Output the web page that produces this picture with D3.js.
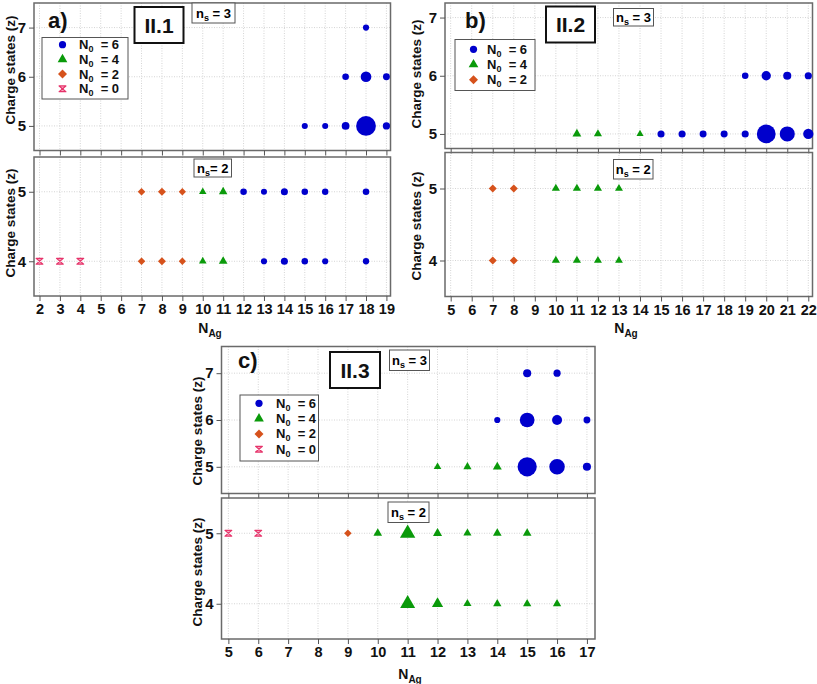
<!DOCTYPE html>
<html><head><meta charset="utf-8">
<script src="https://cdn.jsdelivr.net/npm/d3@7"></script>
<style>body{margin:0;background:#fff} svg{display:block}</style>
</head><body>
<svg id="chart" width="817" height="684"></svg>
<script>
// ---------------- data ----------------
// each point: [N_Ag, charge state z, N0 group, relative abundance (marker area)]
const aNs3 = [
  [18,7,6,1.0],[17,6,6,1.2],[18,6,6,3.5],[19,6,6,1.3],
  [15,5,6,0.95],[16,5,6,0.95],[17,5,6,1.7],[18,5,6,12.5],[19,5,6,1.45]
];
const aNs2 = [
  [7,5,2,0.95],[8,5,2,1.1],[9,5,2,0.85],[10,5,4,0.75],[11,5,4,1.05],
  [12,5,6,1.15],[13,5,6,0.95],[14,5,6,1.4],[15,5,6,1.15],[16,5,6,1.1],[18,5,6,1.15],
  [2,4,0,1],[3,4,0,1],[4,4,0,1],
  [7,4,2,0.95],[8,4,2,1.1],[9,4,2,0.85],[10,4,4,0.8],[11,4,4,1.1],
  [13,4,6,1.0],[14,4,6,1.4],[15,4,6,1.15],[16,4,6,1.0],[18,4,6,1.05]
];
const bNs3 = [
  [19,6,6,1.15],[20,6,6,2.6],[21,6,6,1.9],[22,6,6,1.45],
  [11,5,4,1.15],[12,5,4,0.95],[14,5,4,0.65],
  [15,5,6,1.4],[16,5,6,1.4],[17,5,6,1.35],[18,5,6,1.35],[19,5,6,1.4],
  [20,5,6,11.3],[21,5,6,7.2],[22,5,6,3.2]
];
const bNs2 = [
  [7,5,2,1.1],[8,5,2,1.1],[10,5,4,0.95],[11,5,4,0.95],[12,5,4,0.95],[13,5,4,0.9],
  [7,4,2,1.1],[8,4,2,1.1],[10,4,4,0.95],[11,4,4,0.95],[12,4,4,0.9],[13,4,4,0.85]
];
const cNs3 = [
  [15,7,6,1.9],[16,7,6,1.45],
  [14,6,6,1.0],[15,6,6,6.8],[16,6,6,3.0],[17,6,6,1.3],
  [12,5,4,0.8],[13,5,4,0.95],[14,5,4,1.2],
  [15,5,6,11.8],[16,5,6,7.6],[17,5,6,1.9]
];
const cNs2 = [
  [5,5,0,1],[6,5,0,1],[9,5,2,0.9],
  [10,5,4,1.1],[11,5,4,4.0],[12,5,4,1.25],[13,5,4,0.95],[14,5,4,1.1],[15,5,4,1.1],
  [11,4,4,3.8],[12,4,4,2.0],[13,4,4,0.95],[14,4,4,1.0],[15,4,4,1.0],[16,4,4,1.0]
];
const xTicksA = [2,3,4,5,6,7,8,9,10,11,12,13,14,15,16,17,18,19];
const xTicksB = [5,6,7,8,9,10,11,12,13,14,15,16,17,18,19,20,21,22];
const xTicksC = [5,6,7,8,9,10,11,12,13,14,15,16,17];
const yTicksNs3 = [5,6,7];
const yTicksNs2 = [4,5];
const legendA = [6,4,2,0];
const legendB = [6,4,2];
const legendC = [6,4,2,0];

// ---------------- styling ----------------
const svg = d3.select("#chart");
const FONT = "'Liberation Sans Narrow','Liberation Sans',Arial,sans-serif";
const FONTW = "'Liberation Sans',Arial,sans-serif";
const colors = {6:"#0000cc", 4:"#0a9a0a", 2:"#d6521c", 0:"#e6336a"};
const sizeScale = d3.scaleLinear().domain([0,1]).range([6,30]);

const diamond = { draw(ctx, size){ const r=Math.sqrt(size/2);
  ctx.moveTo(0,-r); ctx.lineTo(r,0); ctx.lineTo(0,r); ctx.lineTo(-r,0); ctx.closePath(); } };
const hourglass = { draw(ctx, size){ const s=Math.sqrt(size), w=s*0.62, h=s*0.52;
  ctx.moveTo(-w,-h); ctx.lineTo(w,-h); ctx.lineTo(-w,h); ctx.lineTo(w,h); ctx.closePath(); } };
const symbolOf = {6:d3.symbolCircle, 4:d3.symbolTriangle, 2:diamond, 0:hourglass};

function drawMarker(sel, group, size){
  sel.attr("d", d3.symbol().type(symbolOf[group]).size(sizeScale(size)))
     .attr("fill", group===0 ? "#f7a8c0" : colors[group])
     .attr("stroke", group===0 ? colors[0] : "none")
     .attr("stroke-width", group===0 ? 1.2 : 0)
     .attr("stroke-linejoin","round");
}

function nsLabel(g, box, n){
  g.append("rect").attr("x",box[0]).attr("y",box[1]).attr("width",box[2]).attr("height",box[3])
    .attr("fill","#fff").attr("stroke","#555").attr("stroke-width",1);
  const t = g.append("text").attr("x",box[0]+box[2]/2).attr("y",box[1]+box[3]/2+4.5)
    .attr("text-anchor","middle").attr("font-family",FONTW).attr("font-weight","bold").attr("font-size",13);
  t.append("tspan").text("n");
  t.append("tspan").attr("font-size",9).attr("dy",3).text("s");
  t.append("tspan").attr("dy",-3).text(box[4] || " = " + n);
}

function drawPanel(p){
  const g = svg.append("g");
  const x = d3.scaleLinear().domain(p.xDomain).range([p.left, p.right]);
  p.subs.forEach((s, i) => {
    const y = d3.scaleLinear().domain(s.yDomain).range([s.bottom, s.top]);
    const last = i === p.subs.length - 1;
    // grid
    g.append("g").selectAll("line").data(p.xTicks).join("line")
      .attr("x1", d=>x(d)).attr("x2", d=>x(d)).attr("y1", s.top).attr("y2", s.bottom)
      .attr("stroke","#d4d4d4").attr("stroke-width",1).attr("stroke-dasharray","1,1.5");
    g.append("g").selectAll("line").data(s.yTicks).join("line")
      .attr("x1", p.left).attr("x2", p.right).attr("y1", d=>y(d)).attr("y2", d=>y(d))
      .attr("stroke","#d4d4d4").attr("stroke-width",1).attr("stroke-dasharray","1,1.5");
    // frame
    g.append("rect").attr("x",p.left).attr("y",s.top).attr("width",p.right-p.left).attr("height",s.bottom-s.top)
      .attr("fill","none").attr("stroke","#6a6a6a").attr("stroke-width",1.5);
    // axes
    const ya = g.append("g").attr("transform",`translate(${p.left},0)`)
      .call(d3.axisLeft(y).tickValues(s.yTicks).tickSize(5).tickPadding(3).tickFormat(d3.format("d")));
    const xa = g.append("g").attr("transform",`translate(0,${s.bottom})`)
      .call(d3.axisBottom(x).tickValues(p.xTicks).tickSize(5).tickPadding(3)
        .tickFormat(last ? d3.format("d") : () => ""));
    [ya, xa].forEach(a => {
      a.select(".domain").remove();
      a.selectAll(".tick line").attr("stroke","#555").attr("stroke-width",1);
    });
    xa.selectAll(".tick text").attr("font-family",FONT).attr("font-weight","bold")
      .attr("font-size",14.5).attr("fill","#111");
    ya.selectAll(".tick text").attr("font-family",FONTW).attr("font-weight","bold")
      .attr("font-size",15).attr("fill","#111");
    // y label
    g.append("text").attr("transform",`translate(${p.ylabX},${s.labY}) rotate(-90)`)
      .attr("text-anchor","middle").attr("font-family",FONTW).attr("font-weight","bold")
      .attr("font-size",13.5).attr("fill","#111").text("Charge states (z)");
    // points
    g.append("g").selectAll("path").data(s.data).join("path")
      .attr("transform", d => `translate(${x(d[0])},${y(d[1])})`)
      .each(function(d){ drawMarker(d3.select(this), d[2], d[3]); });
    nsLabel(g, s.nsBox, s.ns);
  });
  // N_Ag label
  const t = g.append("text").attr("x",p.nagX).attr("y",p.nagY).attr("text-anchor","middle")
    .attr("font-family",FONTW).attr("font-weight","bold").attr("font-size",14).attr("fill","#111");
  t.append("tspan").text("N");
  t.append("tspan").attr("font-size",10).attr("dy",3.5).text("Ag");
  // panel letter
  g.append("text").attr("x",p.letter[0]).attr("y",p.letter[1]).attr("font-family",FONTW)
    .attr("font-weight","bold").attr("font-size",22).attr("fill","#111").text(p.letter[2]);
  // II.x box
  const b = p.idBox;
  g.append("rect").attr("x",b[0]).attr("y",b[1]).attr("width",b[2]).attr("height",b[3])
    .attr("fill","#fff").attr("stroke","#111").attr("stroke-width",2);
  g.append("text").attr("x",b[0]+b[2]/2).attr("y",b[1]+b[3]/2+7.5).attr("text-anchor","middle")
    .attr("font-family",FONTW).attr("font-weight","bold").attr("font-size",21).attr("fill","#111").text(b[4]);
  // legend
  const L = p.legend;
  g.append("rect").attr("x",L.x).attr("y",L.y).attr("width",L.w).attr("height",L.h)
    .attr("fill","#fff").attr("stroke","#555").attr("stroke-width",1);
  const rows = g.append("g").selectAll("g").data(L.items).join("g")
    .attr("transform",(d,i)=>`translate(0,${L.y0 + i*L.dy})`);
  rows.append("path").attr("transform",`translate(${L.sx},0)`)
    .each(function(d){ drawMarker(d3.select(this), d, d===0 ? 1.0 : 1.45); });
  const lt = rows.append("text").attr("x",L.tx).attr("y",4.5).attr("font-family",FONTW)
    .attr("font-weight","bold").attr("font-size",13).attr("fill","#111");
  lt.append("tspan").text("N");
  lt.append("tspan").attr("font-size",9).attr("dy",3).text("0");
  lt.append("tspan").attr("dy",-3).text(d => "  = " + d).attr("xml:space","preserve");
}

drawPanel({
  left:34, right:390.5, xDomain:[1.73,19.2], xTicks:xTicksA, ylabX:14.5, nagX:210, nagY:333,
  letter:[48,28,"a)"], idBox:[134.5,7,49,36,"II.1"],
  legend:{x:42,y:37.5,w:86,h:61.5,items:legendA,y0:44.7,dy:14.7,sx:62.5,tx:79},
  subs:[
    {top:3, bottom:150.5, yDomain:[4.5,7.5], yTicks:yTicksNs3, data:aNs3, labY:70, ns:3, nsBox:[192,3,43,20]},
    {top:157, bottom:296, yDomain:[3.5,5.5], yTicks:yTicksNs2, data:aNs2, labY:223, ns:2, nsBox:[194,159,37.5,18,"= 2"]}
  ]
});
drawPanel({
  left:445, right:812.5, xDomain:[4.73,22.2], xTicks:xTicksB, ylabX:421, nagX:626, nagY:333,
  letter:[465,28,"b)"], idBox:[546,6.5,49,36,"II.2"],
  legend:{x:455,y:39.5,w:80,h:51,items:legendB,y0:49.3,dy:15.2,sx:473.5,tx:487},
  subs:[
    {top:3, bottom:148.5, yDomain:[4.75,7.25], yTicks:yTicksNs3, data:bNs3, labY:74, ns:3, nsBox:[613.5,8.5,40,17.5]},
    {top:152.5, bottom:296.5, yDomain:[3.5,5.5], yTicks:yTicksNs2, data:bNs2, labY:226, ns:2, nsBox:[613.5,159.5,39.5,19.5]}
  ]
});
drawPanel({
  left:221.5, right:595, xDomain:[4.77,17.27], xTicks:xTicksC, ylabX:202, nagX:410, nagY:679,
  letter:[238,368,"c)"], idBox:[330,352,50,36,"II.3"],
  legend:{x:240,y:395,w:78.5,h:66,items:legendC,y0:403.3,dy:15.3,sx:259,tx:276},
  subs:[
    {top:346.5, bottom:493.5, yDomain:[4.43,7.57], yTicks:yTicksNs3, data:cNs3, labY:431, ns:3, nsBox:[389.5,350,40,20.5]},
    {top:498, bottom:639, yDomain:[3.5,5.5], yTicks:yTicksNs2, data:cNs2, labY:572, ns:2, nsBox:[388,502,41,20.5]}
  ]
});
</script>
</body></html>
